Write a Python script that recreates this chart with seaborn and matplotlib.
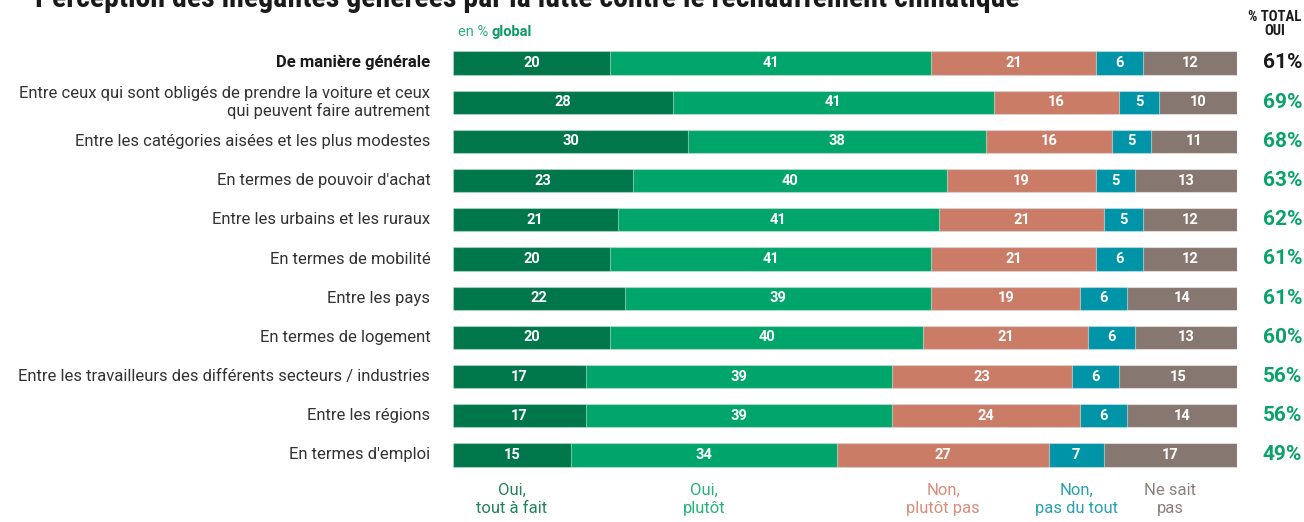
import matplotlib
matplotlib.use("Agg")
import matplotlib.pyplot as plt
from matplotlib import font_manager
import seaborn as sns
import pandas as pd
import numpy as np

sns.set_theme(style="white")
avail = {f.name for f in font_manager.fontManager.ttflist}
cond = [c for c in ["Roboto Condensed", "Liberation Sans Narrow", "DejaVu Sans"] if c in avail]
reg = [c for c in ["Roboto", "DejaVu Sans"] if c in avail]
plt.rcParams['font.family'] = reg + ["DejaVu Sans"]

categories = [
    "De manière générale",
    "Entre ceux qui sont obligés de prendre la voiture et ceux\nqui peuvent faire autrement",
    "Entre les catégories aisées et les plus modestes",
    "En termes de pouvoir d'achat",
    "Entre les urbains et les ruraux",
    "En termes de mobilité",
    "Entre les pays",
    "En termes de logement",
    "Entre les travailleurs des différents secteurs / industries",
    "Entre les régions",
    "En termes d'emploi",
]
oui_tout_a_fait = [20, 28, 30, 23, 21, 20, 22, 20, 17, 17, 15]
oui_plutot = [41, 41, 38, 40, 41, 41, 39, 40, 39, 39, 34]
non_plutot_pas = [21, 16, 16, 19, 21, 21, 19, 21, 23, 24, 27]
non_pas_du_tout = [6, 5, 5, 5, 5, 6, 6, 6, 6, 6, 7]
ne_sait_pas = [12, 10, 11, 13, 12, 12, 14, 13, 15, 14, 17]
total_oui = ["61%", "69%", "68%", "63%", "62%", "61%", "61%", "60%", "56%", "56%", "49%"]
series_names = ["Oui,\ntout à fait", "Oui,\nplutôt", "Non,\nplutôt pas", "Non,\npas du tout", "Ne sait\npas"]

colors = ["#00774B", "#00A56C", "#CB7C67", "#0094A8", "#877771"]
legend_colors = ["#21835B", "#27B27A", "#D98D7A", "#2AA0B3", "#8E817C"]

series = [oui_tout_a_fait, oui_plutot, non_plutot_pas, non_pas_du_tout, ne_sait_pas]
df = pd.DataFrame({"cat": categories})
cum = np.cumsum(np.array(series), axis=0)

W, H = 1304, 522
fig = plt.figure(figsize=(W / 100, H / 100), dpi=100)
ax = fig.add_axes([453 / W, 1 - 474.6 / H, 784 / W, 431.2 / H])

for i in range(len(series) - 1, -1, -1):
    df["v"] = cum[i]
    sns.barplot(data=df, x="v", y="cat", orient="h", color=colors[i], saturation=1,
                width=0.59, ax=ax, edgecolor=(1, 1, 1, 0.45), linewidth=0.8)

ax.set_xlim(0, 100)
ax.set_ylim(10.5, -0.5)
ax.set_xlabel("")
ax.set_ylabel("")
ax.set_yticks([])
ax.set_xticks([])
for s in ax.spines.values():
    s.set_visible(False)

# values inside bars
for i in range(len(series)):
    starts = cum[i] - np.array(series[i])
    for r, v in enumerate(series[i]):
        ax.text(starts[r] + v / 2, r, str(v), ha="center", va="center",
                color="white", fontsize=10.5, fontweight="bold", family=reg)

# category labels
for r, c in enumerate(categories):
    ax.text(-2.9, r, c, ha="right", va="center", fontsize=12,
            color="#1a1a1a" if r == 0 else "#333333",
            fontweight="bold" if r == 0 else "normal", linespacing=1.15, family=reg)

# total oui
for r, t in enumerate(total_oui):
    ax.text(108.3, r, t, ha="right", va="center", fontsize=15, fontweight="bold",
            color="#1a1a1a" if r == 0 else "#0AA26A", family=reg)

# legend labels under last row
last = len(categories) - 1
for i in range(len(series)):
    start = cum[i][last] - series[i][last]
    ax.text(start + series[i][last] / 2, last + 0.5 + 0.22, series_names[i], ha="center", va="top",
            fontsize=12, color=legend_colors[i], linespacing=1.25, family=reg)

fig.text(1275 / W, 1 - 24 / H, "% TOTAL\nOUI", ha="center", va="center", fontsize=10.5,
         fontweight="bold", color="#1a1a1a", linespacing=1.0, family=cond)
fig.text(458 / W, 1 - 32 / H, "en % ", ha="left", va="center", fontsize=10.5, color="#2FAE7E", family=reg)
fig.text(492 / W, 1 - 32 / H, "global", ha="left", va="center", fontsize=10.5,
         color="#0A9A62", fontweight="bold", family=reg)

fig.text(35 / W, 1 - 7 / H, "Perception des inégalités générées par la lutte contre le réchauffement climatique",
         ha="left", va="baseline", fontsize=21.5, fontweight="bold", color="#1a1a1a", family=cond)

fig.savefig("out.png", dpi=100)
